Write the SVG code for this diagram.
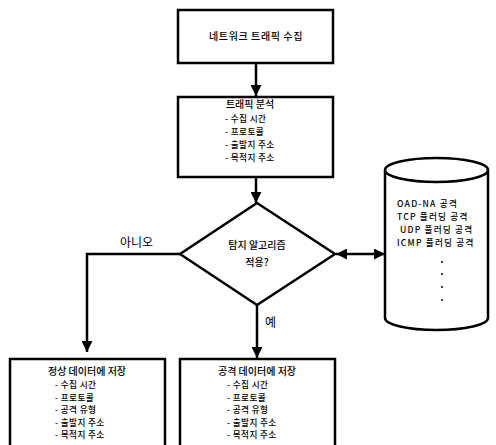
<svg xmlns="http://www.w3.org/2000/svg" width="496" height="445" viewBox="0 0 496 445">
<defs>
<style>
.box{fill:#fff;stroke:#000;stroke-width:2.5}
.ln{fill:none;stroke:#000;stroke-width:2.5}
text{font-family:"Noto Sans CJK KR","Noto Sans",sans-serif;font-size:10px;fill:#000;font-weight:500}
.c{text-anchor:middle}
.it{font-size:8.6px;letter-spacing:0.4px}
.db{font-size:8.6px;letter-spacing:1.2px}
.lbl{font-size:12px;font-weight:400}
</style>
<marker id="ah" viewBox="0 0 10 10" refX="10" refY="5" markerWidth="4.4" markerHeight="4.4" orient="auto-start-reverse" markerUnits="strokeWidth">
<path d="M0,0 L10,5 L0,10 z" fill="#000"/>
</marker>
</defs>
<rect width="496" height="445" fill="#fff"/>
<g id="connectors">
<line class="ln" x1="256" y1="63" x2="256" y2="96" marker-end="url(#ah)"/>
<line class="ln" x1="256" y1="177" x2="256" y2="203" marker-end="url(#ah)"/>
<polyline class="ln" points="180,254 87,254 87,352" marker-end="url(#ah)"/>
<line class="ln" x1="257" y1="305" x2="257" y2="358" marker-end="url(#ah)"/>
<line class="ln" x1="336" y1="254" x2="385" y2="254" marker-start="url(#ah)" marker-end="url(#ah)"/>
<text class="lbl" x="120" y="247">아니오</text>
<text class="lbl" x="265" y="327">예</text>
</g>
<g id="collect">
<rect class="box" x="178" y="10" width="155" height="53"/>
<text class="c" x="256" y="40" letter-spacing="0.6">네트워크 트래픽 수집</text>
</g>
<g id="analyze">
<rect class="box" x="178" y="97" width="155" height="80"/>
<text class="c" x="250" y="108">트래픽 분석</text>
<text class="it" x="225" y="122">- 수집 시간</text>
<text class="it" x="225" y="135">- 프로토콜</text>
<text class="it" x="225" y="148">- 출발지 주소</text>
<text class="it" x="225" y="161">- 목적지 주소</text>
</g>
<g id="decision">
<polygon class="box" points="257,203 335,254 257,305 180,254"/>
<text class="c" x="257" y="249">탐지 알고리즘</text>
<text class="c" x="257" y="266">적용?</text>
</g>
<g id="database">
<path class="box" d="M385,170 L385,318 A51.5,12 0 0 0 488,318 L488,170 A51.5,12 0 0 0 385,170 A51.5,12 0 0 0 488,170"/>
<text class="db" x="397" y="207">OAD-NA 공격</text>
<text class="db" x="397" y="220">TCP 플러딩 공격</text>
<text class="db" x="400" y="233">UDP 플러딩 공격</text>
<text class="db" x="397" y="246">ICMP 플러딩 공격</text>
<circle cx="442" cy="262" r="1"/>
<circle cx="442" cy="274" r="1"/>
<circle cx="442" cy="287" r="1"/>
<circle cx="442" cy="300" r="1"/>
</g>
<g id="normal">
<rect class="box" x="10" y="359" width="155" height="90"/>
<text class="c" x="87" y="375">정상 데이터에 저장</text>
<text class="it" x="55" y="388">- 수집 시간</text>
<text class="it" x="55" y="400.6">- 프로토콜</text>
<text class="it" x="55" y="413.2">- 공격 유형</text>
<text class="it" x="55" y="425.8">- 출발지 주소</text>
<text class="it" x="55" y="438.4">- 목적지 주소</text>
</g>
<g id="attack">
<rect class="box" x="180" y="359" width="155" height="90"/>
<text class="c" x="257" y="375">공격 데이터에 저장</text>
<text class="it" x="227" y="388">- 수집 시간</text>
<text class="it" x="227" y="400.6">- 프로토콜</text>
<text class="it" x="227" y="413.2">- 공격 유형</text>
<text class="it" x="227" y="425.8">- 출발지 주소</text>
<text class="it" x="227" y="438.4">- 목적지 주소</text>
</g>
</svg>
